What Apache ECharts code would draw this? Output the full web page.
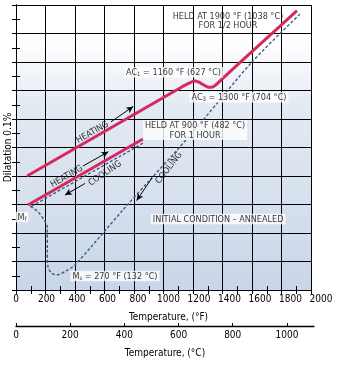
<!DOCTYPE html>
<html>
<head>
<meta charset="utf-8">
<script src="https://cdn.jsdelivr.net/npm/echarts@6/dist/echarts.min.js"></script>
<style>
html,body{margin:0;padding:0;background:#fff;}
#chart{width:339px;height:366px;}
</style>
</head>
<body>
<div id="chart"></div>
<script>
// ---------- data (°F, dilatation units of 0.1%) ----------
const fTickLabels = [0, 200, 400, 600, 800, 1000, 1200, 1400, 1600, 1800, 2000];
const cTickLabels = [0, 200, 400, 600, 800, 1000];
const yTicks = [0, 1, 2, 3, 4, 5, 6, 7, 8, 9, 10];

const heatingUpper = [[75, 4.0], [600, 5.56], [1100, 7.05], [1140, 7.17], [1180, 7.28], [1210, 7.33],
  [1240, 7.29], [1270, 7.2], [1300, 7.12], [1320, 7.11], [1345, 7.16], [1370, 7.27], [1400, 7.42],
  [1650, 8.6], [1905, 9.8]];
const heatingLower = [[81, 2.98], [861, 5.30]];
const coolingMain = [[1925, 9.68], [1600, 8.0], [1268, 5.96], [1092, 4.91], [908, 3.86], [725, 2.81],
  [400, 0.88], [339, 0.67], [276, 0.53], [242, 0.59], [217, 0.81], [212, 1.4], [212, 2.21],
  [190, 2.46], [149, 2.74], [95, 2.95]];
const coolingAfterHold = [[861, 5.15], [95, 2.91]];

const arrows = [
  [[644, 5.90], [795, 6.44]],
  [[454, 4.35], [626, 4.85]],
  [[468, 3.74], [332, 3.33]],
  [[922, 3.93], [818, 3.14]]
];

const notes = [
  { text: 'HELD AT 1900 °F (1038 °C)\nFOR 1/2 HOUR', at: [1437, 9.44], rotate: 0, box: false },
  { text: 'AC{sub|1} = 1160 °F (627 °C)', at: [1068, 7.64], rotate: 0, box: true },
  { text: 'AC{sub|3} = 1300 °F (704 °C)', at: [1512, 6.76], rotate: 0, box: true },
  { text: 'HELD AT 900 °F (482 °C)\nFOR 1 HOUR', at: [1214, 5.61], rotate: 0, box: true },
  { text: 'INITIAL CONDITION – ANNEALED', at: [1370, 2.49], rotate: 0, box: true },
  { text: 'M{sub|f}', at: [41, 2.56], rotate: 0, box: true },
  { text: 'M{sub|s} = 270 °F (132 °C)', at: [671, 0.49], rotate: 0, box: true },
  { text: 'HEATING', at: [519, 5.53], rotate: 30, box: false },
  { text: 'HEATING', at: [344, 3.98], rotate: 30, box: false },
  { text: 'COOLING', at: [603, 4.09], rotate: 34, box: false },
  { text: 'COOLING', at: [1037, 4.28], rotate: 52, box: false }
];

// ---------- chart ----------
const FONT = '"Liberation Sans Narrow", "DejaVu Sans Condensed", "Roboto Condensed", "Liberation Sans", sans-serif';
const INK = '#000000';
const RED = '#d42a5c';
const BLUE = '#3d5e8e';

const chart = echarts.init(document.getElementById('chart'), null, { renderer: 'canvas' });

const bg = new echarts.graphic.LinearGradient(0, 0, 0, 1, [
  { offset: 0, color: '#ffffff' },
  { offset: 0.13, color: '#ffffff' },
  { offset: 0.35, color: '#e4eaf3' },
  { offset: 1, color: '#c9d6e9' }
]);

const plain = v => String(v);

const fAxisBase = {
  type: 'value', gridIndex: 0,
  min: fTickLabels[0], max: fTickLabels[fTickLabels.length - 1],
  interval: fTickLabels[1] - fTickLabels[0],
  axisLine: { show: true, lineStyle: { color: INK, width: 1 } },
  axisTick: { show: true, inside: true, length: 4, lineStyle: { color: INK } },
  minorTick: { show: true, splitNumber: 2, length: 4, lineStyle: { color: INK } },
  axisLabel: { show: false }
};
const yAxisBase = {
  type: 'value', gridIndex: 0,
  min: yTicks[0], max: yTicks[yTicks.length - 1], interval: yTicks[1] - yTicks[0],
  axisLine: { show: true, lineStyle: { color: INK, width: 1 } },
  axisTick: { show: true, inside: true, length: 4, lineStyle: { color: INK } },
  minorTick: { show: true, splitNumber: 2, length: 4, lineStyle: { color: INK } },
  axisLabel: { show: false }
};

const option = {
  animation: false,
  backgroundColor: '#ffffff',
  textStyle: { fontFamily: FONT, color: INK },
  grid: [
    { left: 16, top: 5, width: 295, height: 285, show: true, backgroundColor: bg, borderWidth: 0, containLabel: false, outerBoundsMode: 'none' },
    { left: 16, top: 5, width: 305, height: 285, containLabel: false, outerBoundsMode: 'none' },
    { left: 16, top: 320, width: 298, height: 6, containLabel: false, outerBoundsMode: 'none' }
  ],
  xAxis: [
    Object.assign({}, fAxisBase, { position: 'bottom', splitLine: { show: true, lineStyle: { color: INK, width: 1 } } }),
    Object.assign({}, fAxisBase, { position: 'top', splitLine: { show: false } }),
    {
      type: 'value', gridIndex: 1, position: 'bottom',
      min: fTickLabels[0], max: fTickLabels[fTickLabels.length - 1],
      interval: fTickLabels[1] - fTickLabels[0],
      axisLine: { show: false }, axisTick: { show: false }, splitLine: { show: false },
      axisLabel: { show: true, fontSize: 10, margin: 4, color: INK, fontFamily: FONT, formatter: plain },
      name: 'Temperature, (°F)', nameLocation: 'middle', nameGap: 22,
      nameTextStyle: { fontSize: 10, color: INK, fontFamily: FONT }
    },
    {
      type: 'value', gridIndex: 2, position: 'bottom',
      min: cTickLabels[0], max: 1100, interval: cTickLabels[1] - cTickLabels[0],
      axisLine: { show: true, lineStyle: { color: INK, width: 1.3 } },
      axisTick: { show: true, inside: true, length: 3, lineStyle: { color: INK } },
      splitLine: { show: false },
      axisLabel: { show: true, fontSize: 10, margin: 4, color: INK, fontFamily: FONT, formatter: plain, showMaxLabel: false },
      name: 'Temperature, (°C)', nameLocation: 'middle', nameGap: 22,
      nameTextStyle: { fontSize: 10, color: INK, fontFamily: FONT }
    }
  ],
  yAxis: [
    Object.assign({}, yAxisBase, {
      position: 'left', splitLine: { show: true, lineStyle: { color: INK, width: 1 } },
      name: 'Dilatation 0.1%', nameLocation: 'middle', nameGap: 3,
      nameTextStyle: { fontSize: 10, color: INK, fontFamily: FONT }
    }),
    Object.assign({}, yAxisBase, { position: 'right', splitLine: { show: false } }),
    { type: 'value', gridIndex: 1, show: false, min: 0, max: 10 },
    { type: 'value', gridIndex: 2, show: false, min: 0, max: 1 }
  ],
  series: [
    {
      type: 'line', xAxisIndex: 0, yAxisIndex: 0, data: coolingMain, smooth: 0.3,
      showSymbol: false, symbol: 'none', z: 3,
      lineStyle: { color: BLUE, width: 1.4, type: [3, 2] }
    },
    {
      type: 'line', xAxisIndex: 0, yAxisIndex: 0, data: coolingAfterHold,
      showSymbol: false, symbol: 'none', z: 3,
      lineStyle: { color: BLUE, width: 1.4, type: [3, 2] }
    },
    {
      type: 'line', xAxisIndex: 0, yAxisIndex: 0, data: heatingUpper, smooth: 0.2,
      showSymbol: false, symbol: 'none', z: 4,
      lineStyle: { color: RED, width: 3 }
    },
    {
      type: 'line', xAxisIndex: 0, yAxisIndex: 0, data: heatingLower,
      showSymbol: false, symbol: 'none', z: 4,
      lineStyle: { color: RED, width: 3 }
    },
    {
      type: 'line', xAxisIndex: 0, yAxisIndex: 0, data: [], z: 6,
      markLine: {
        silent: true, animation: false,
        symbol: ['none', 'arrow'], symbolSize: [5, 7],
        label: { show: false },
        lineStyle: { color: INK, width: 1, type: 'solid' },
        data: arrows.map(a => [{ coord: a[0] }, { coord: a[1] }])
      }
    },
    {
      type: 'scatter', xAxisIndex: 0, yAxisIndex: 0, symbolSize: 0, z: 10, silent: true,
      data: notes.map(n => ({
        value: n.at,
        label: {
          show: true, position: 'inside', formatter: n.text, rotate: n.rotate,
          fontSize: 9, lineHeight: 9.5, color: INK, fontFamily: FONT, align: 'center',
          backgroundColor: n.box ? '#ffffff' : 'transparent',
          padding: n.box ? [1, 2, 0, 2] : 0,
          rich: {
            sub: { fontSize: 6, verticalAlign: 'bottom', padding: [5, 0, 0, 0], color: INK, fontFamily: FONT }
          }
        }
      }))
    }
  ]
};

chart.setOption(option);
</script>
</body>
</html>
